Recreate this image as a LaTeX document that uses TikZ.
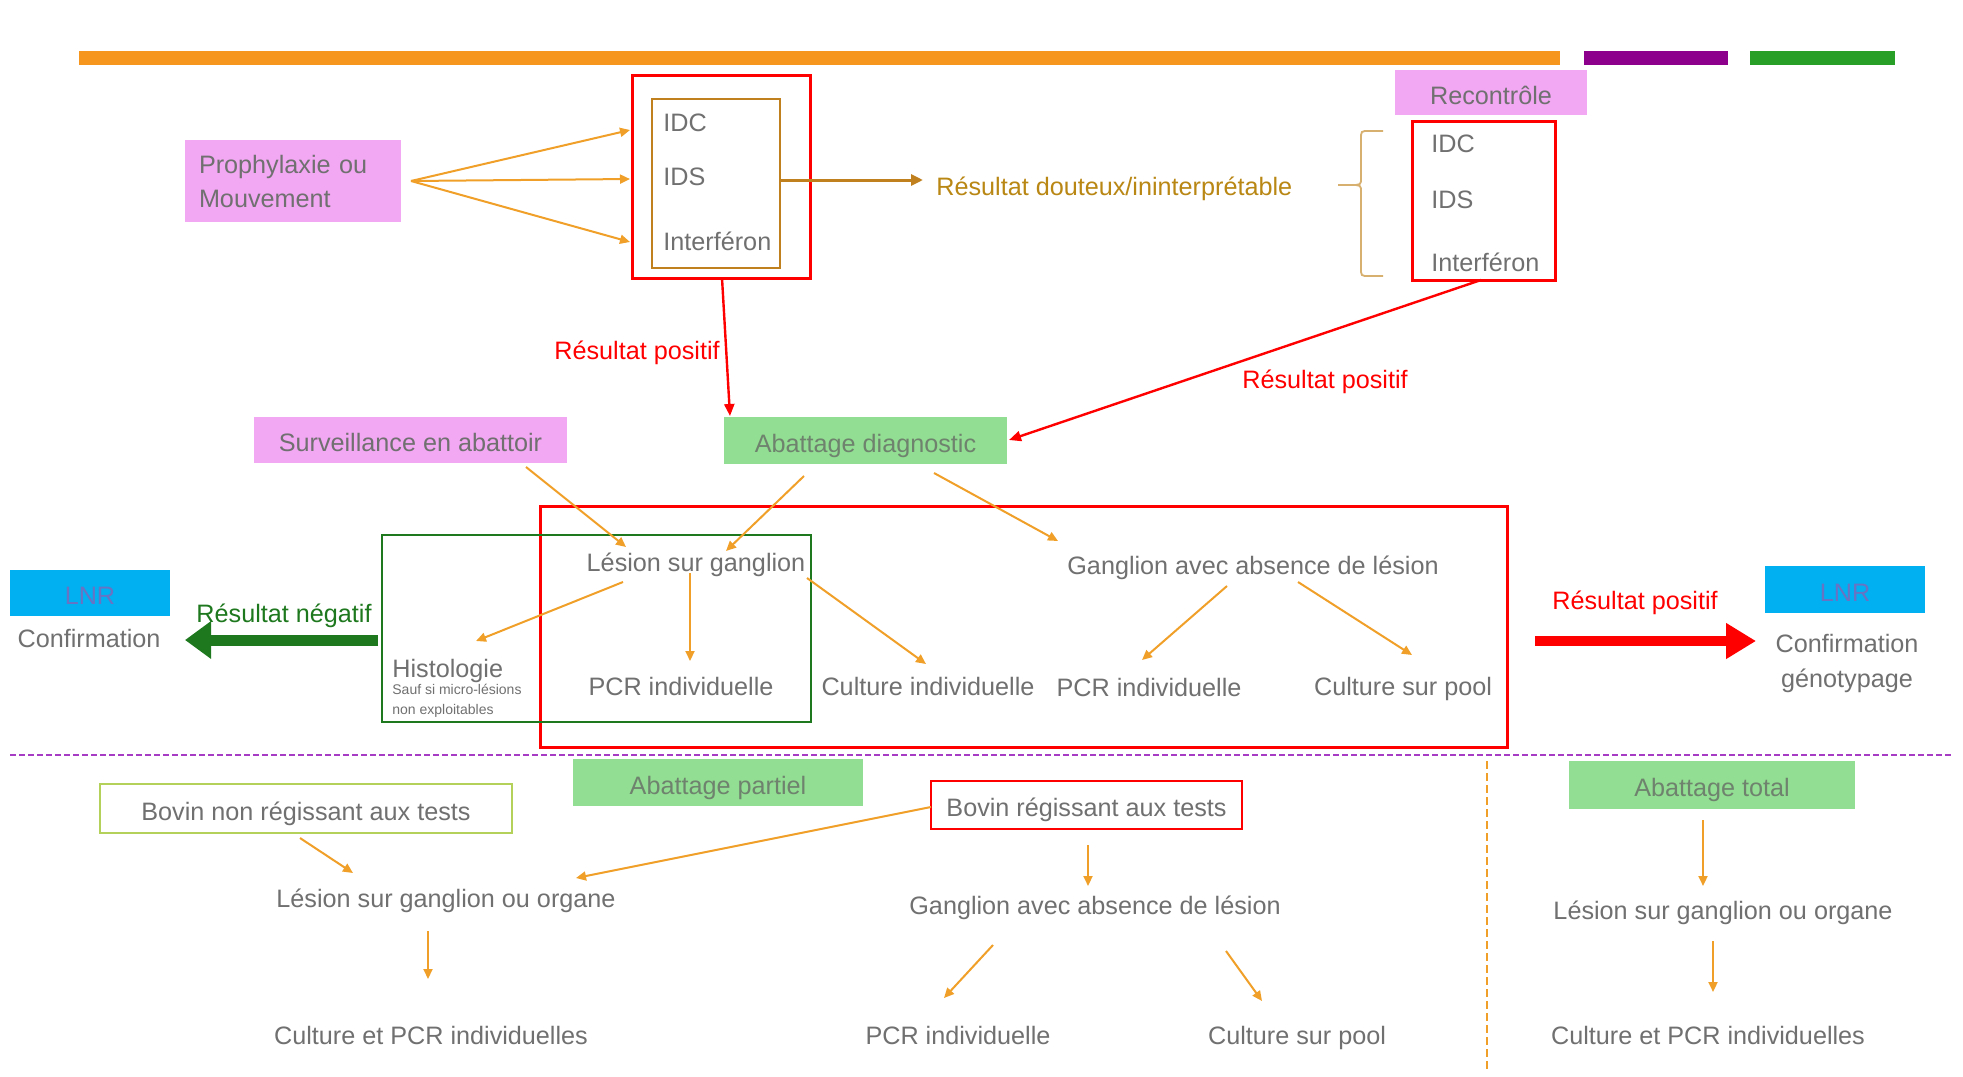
\documentclass[tikz,border=0pt]{standalone}
\usepackage{fontspec}
\setmainfont{Liberation Sans}
\usetikzlibrary{arrows.meta}
\definecolor{tgray}{RGB}{112,112,112}
\definecolor{pinkc}{RGB}{242,168,242}
\definecolor{greenc}{RGB}{146,222,146}
\definecolor{barorange}{RGB}{247,150,30}
\definecolor{barpurple}{RGB}{140,0,140}
\definecolor{bargreen}{RGB}{40,160,40}
\definecolor{arrowor}{RGB}{240,160,40}
\definecolor{brownc}{RGB}{192,128,30}
\definecolor{doutcol}{RGB}{185,135,20}
\definecolor{bracec}{RGB}{215,175,110}
\definecolor{dkgreen}{RGB}{30,120,30}
\definecolor{lnrblue}{RGB}{0,176,240}
\definecolor{lnrtext}{RGB}{105,115,195}
\definecolor{dashpurple}{RGB}{165,60,195}
\definecolor{lightgreenline}{RGB}{180,210,90}
\definecolor{redc}{RGB}{255,0,0}
\begin{document}
\begin{tikzpicture}[x=0.5pt,y=-0.5pt,
  fnt/.style={font=\fontsize{12.6}{15}\selectfont, text height=12.5pt, text depth=1pt},
  txt/.style={fnt, text=tgray, inner sep=2pt},
  lbl/.style={fnt, inner sep=2pt},
  pinkbox/.style={fill=pinkc, fnt, text=tgray, inner sep=0pt},
  greenbox/.style={fill=greenc, fnt, text={rgb,255:red,110;green,130;blue,110}, inner sep=0pt},
  frame/.style={inner sep=0pt},
  oarr/.style={draw=arrowor, line width=1pt, -{Triangle[length=5pt,width=4.5pt]}},
  rarr/.style={draw=redc, line width=1.2pt, -{Triangle[length=6pt,width=5pt]}}
]
\useasboundingbox (0,0) rectangle (1963,1076);
\fill[white] (0,0) rectangle (1963,1076);

% top bars
\fill[barorange] (79,51) rectangle (1560,65);
\fill[barpurple] (1584,51) rectangle (1728,65);
\fill[bargreen] (1750,51) rectangle (1895,65);

% top left part
\node[fill=pinkc, text=tgray, inner sep=0pt, minimum width=108pt, minimum height=41pt, text width=94pt, align=left,
      font=\fontsize{12.6}{17}\selectfont] (proph) at (293,181) {Prophylaxie ou\\Mouvement};
\node[frame, draw=redc, line width=1.5pt, minimum width=89pt, minimum height=101.5pt] (redboxA) at (721,176.5) {};
\node[frame, draw=brownc, line width=1.3pt, minimum width=64pt, minimum height=84.5pt] (brownbox) at (716,183.5) {};
\node[txt, anchor=west] (idcA) at (659,120) {IDC};
\node[txt, anchor=west] (idsA) at (659,174) {IDS};
\node[txt, anchor=west] (ifnA) at (659,239) {Interféron};

\draw[oarr] ([shift={(118,0)}]proph.center) -- ([shift={(-29,10)}]idcA.west);
\draw[oarr] ([shift={(118,0)}]proph.center) -- ([shift={(-29,5)}]idsA.west);
\draw[oarr] ([shift={(118,0)}]proph.center) -- ([shift={(-29,3)}]ifnA.west);

\node[txt, text=doutcol, anchor=west] (douteux) at (932,184) {Résultat douteux/ininterprétable};
\draw[draw=brownc, line width=1.5pt, -{Triangle[length=6pt,width=5.5pt]}]
  ([shift={(64,-3.5)}]brownbox.center) -- ([shift={(-9,-4)}]douteux.west);

% brace
\draw[bracec, line width=0.9pt]
  (1383,131) -- (1369,131) .. controls (1361,131) .. (1361,139) -- (1361,178)
  .. controls (1361,185) .. (1350,185) -- (1338,185);
\draw[bracec, line width=0.9pt]
  (1350,185) .. controls (1361,185) .. (1361,192) -- (1361,268)
  .. controls (1361,276) .. (1369,276) -- (1383,276);

% recontrole
\node[pinkbox, minimum width=96pt, minimum height=22.5pt] (recon) at (1491,92.5) {Recontrôle};
\node[frame, draw=redc, line width=1.5pt, minimum width=71.5pt, minimum height=79.5pt] (redboxB) at (1483.5,200.5) {};
\node[txt, anchor=west] (idcB) at (1427,141) {IDC};
\node[txt, anchor=west] (idsB) at (1427,197) {IDS};
\node[txt, anchor=west] (ifnB) at (1427,260) {Interféron};

% middle
\node[greenbox, minimum width=141.5pt, minimum height=23.5pt] (abdiag) at (865.5,440.5) {Abattage diagnostic};
\node[pinkbox, minimum width=156.5pt, minimum height=23pt] (surv) at (410.5,440) {Surveillance en abattoir};

\draw[rarr] ([shift={(1,101.5)}]redboxA.center) -- ([shift={(-135.5,-24.5)}]abdiag.center);
\node[lbl, text=redc] (lposA) at (637,348) {Résultat positif};
\draw[rarr] ([shift={(-2.5,79.5)}]redboxB.center) -- ([shift={(143.5,-0.5)}]abdiag.center);
\node[lbl, text=redc] (lposB) at (1325,377) {Résultat positif};

\node[frame, draw=redc, line width=1.5pt, minimum width=483.5pt, minimum height=120.5pt] (bigred) at (1023.5,626.5) {};
\node[frame, draw=dkgreen, line width=1.3pt, minimum width=214.5pt, minimum height=93.5pt] (greenrect) at (596.5,628.5) {};

\node[txt] (lesion) at (696,560) {Lésion sur ganglion};
\node[txt] (ganglion) at (1253,563) {Ganglion avec absence de lésion};
\node[txt, anchor=west] (histo) at (388,666) {Histologie};
\node[anchor=north west, inner sep=2pt, font=\fontsize{7}{10}\selectfont, text=tgray, align=left] (histonote) at (388,680) {Sauf si micro-lésions\\non exploitables};
\node[txt] (pcrA) at (681,684) {PCR individuelle};
\node[txt] (cultind) at (928,684) {Culture individuelle};
\node[txt] (pcrB) at (1149,685) {PCR individuelle};
\node[txt] (poolA) at (1403,684) {Culture sur pool};

\draw[oarr] ([shift={(115.5,27)}]surv.center) -- ([shift={(-70,-13)}]lesion.center);
\draw[oarr] ([shift={(-61.5,35.5)}]abdiag.center) -- ([shift={(30,-9)}]lesion.center);
\draw[oarr] ([shift={(68.5,32.5)}]abdiag.center) -- ([shift={(-195,-22)}]ganglion.center);
\draw[oarr] ([shift={(-73,22)}]lesion.center) -- ([shift={(88,-25)}]histo.west);
\draw[oarr] ([shift={(-6,13)}]lesion.center) -- ([shift={(9,-23)}]pcrA.center);
\draw[oarr] ([shift={(111,18)}]lesion.center) -- ([shift={(-2,-20)}]cultind.center);
\draw[oarr] ([shift={(-26,23)}]ganglion.center) -- ([shift={(-7,-25)}]pcrB.center);
\draw[oarr] ([shift={(45,19)}]ganglion.center) -- ([shift={(9,-29)}]poolA.center);

% LNR left
\node[fill=lnrblue, text=lnrtext, fnt, inner sep=0pt,
      minimum width=80pt, minimum height=23pt] (lnrA) at (90,593) {LNR};
\node[txt] (confA) at (89,636) {Confirmation};
\node[lbl, text=dkgreen] (lneg) at (284,611) {Résultat négatif};
\draw[draw=dkgreen, line width=5.5pt, -{Triangle[length=13pt,width=18pt]}]
  ([shift={(-218.5,11.5)}]greenrect.center) -- ([shift={(96,4)}]confA.center);

% LNR right
\node[fill=lnrblue, text=lnrtext, fnt, inner sep=0pt,
      minimum width=80pt, minimum height=23.5pt] (lnrB) at (1845,589.5) {LNR};
\node[txt] (confB) at (1847,641) {Confirmation};
\node[txt] (genot) at (1847,676) {génotypage};
\node[lbl, text=redc] (lposC) at (1635,598) {Résultat positif};
\draw[draw=redc, line width=5pt, -{Triangle[length=15pt,width=17pt]}]
  ([shift={(511.5,14.5)}]bigred.center) -- ([shift={(-91,0)}]confB.center);

% separators
\draw[dashpurple, line width=1pt, dash pattern=on 3pt off 1.5pt] (10,755) -- (1953,755);
\draw[arrowor, line width=0.6pt, dash pattern=on 4pt off 2pt] (1487,761) -- (1487,1070);

% bottom section
\node[greenbox, minimum width=145pt, minimum height=23.5pt] (abpart) at (718,782.5) {Abattage partiel};
\node[draw=lightgreenline, line width=0.9pt, fill=white, txt, inner sep=0pt,
      minimum width=206pt, minimum height=24.5pt] (bovnon) at (306,808.5) {Bovin non régissant aux tests};
\node[draw=redc, line width=1pt, fill=white, txt, inner sep=0pt,
      minimum width=155.5pt, minimum height=24pt] (bovreg) at (1086.5,805) {Bovin régissant aux tests};

\node[txt] (lesorgA) at (446,896) {Lésion sur ganglion ou organe};
\node[txt] (gangB) at (1095,903) {Ganglion avec absence de lésion};
\node[txt] (cultpcrA) at (431,1033) {Culture et PCR individuelles};
\node[txt] (pcrC) at (958,1033) {PCR individuelle};
\node[txt] (poolB) at (1297,1033) {Culture sur pool};

\draw[oarr] ([shift={(-6,29.5)}]bovnon.center) -- ([shift={(-93,-23)}]lesorgA.center);
\draw[oarr] ([shift={(-155.5,2)}]bovreg.center) -- ([shift={(130,-18)}]lesorgA.center);
\draw[oarr] ([shift={(1.5,40)}]bovreg.center) -- ([shift={(-7,-17)}]gangB.center);
\draw[oarr] ([shift={(-18,35)}]lesorgA.center) -- ([shift={(-3,-54)}]cultpcrA.center);
\draw[oarr] ([shift={(-102,42)}]gangB.center) -- ([shift={(-14,-35)}]pcrC.center);
\draw[oarr] ([shift={(131,48)}]gangB.center) -- ([shift={(-35,-32)}]poolB.center);

\node[greenbox, minimum width=143pt, minimum height=24pt] (abtot) at (1712,785) {Abattage total};
\node[txt] (lesorgB) at (1723,908) {Lésion sur ganglion ou organe};
\node[txt] (cultpcrB) at (1708,1033) {Culture et PCR individuelles};
\draw[oarr] ([shift={(-9,35)}]abtot.center) -- ([shift={(-20,-22)}]lesorgB.center);
\draw[oarr] ([shift={(-10,33)}]lesorgB.center) -- ([shift={(5,-41)}]cultpcrB.center);
\end{tikzpicture}
\end{document}
